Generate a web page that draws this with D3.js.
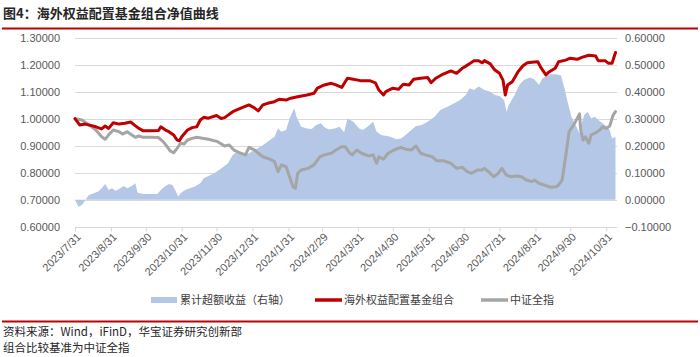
<!DOCTYPE html>
<html><head><meta charset="utf-8">
<script src="https://cdn.jsdelivr.net/npm/d3@7"></script>
<style>body{margin:0;background:#fff}svg{display:block}</style>
</head><body>
<script>
const title = "图4：海外权益配置基金组合净值曲线";
const sourceNote = "资料来源：Wind，iFinD，华宝证券研究创新部";
const benchNote = "组合比较基准为中证全指";
const legendLabels = ["累计超额收益（右轴）", "海外权益配置基金组合", "中证全指"];
const tickDates = ["2023-07-31","2023-08-31","2023-09-30","2023-10-31","2023-11-30","2023-12-31","2024-01-31","2024-02-29","2024-03-31","2024-04-30","2024-05-31","2024-06-30","2024-07-31","2024-08-31","2024-09-30","2024-10-31"];
const tickLabels = ["2023/7/31","2023/8/31","2023/9/30","2023/10/31","2023/11/30","2023/12/31","2024/1/31","2024/2/29","2024/3/31","2024/4/30","2024/5/31","2024/6/30","2024/7/31","2024/8/31","2024/9/30","2024/10/31"];
const leftTicks = [0.6,0.7,0.8,0.9,1.0,1.1,1.2,1.3];
const rightTicks = [-0.1,0,0.1,0.2,0.3,0.4,0.5,0.6];

// 海外权益配置基金组合 (left axis)
const portfolio = [["2023-07-31",1.000],["2023-08-04",0.977],["2023-08-09",0.980],["2023-08-18",0.970],["2023-08-23",0.962],["2023-08-26",0.973],["2023-08-29",0.964],["2023-09-02",0.985],["2023-09-07",0.980],["2023-09-12",0.983],["2023-09-17",0.988],["2023-09-20",0.977],["2023-09-24",0.964],["2023-09-28",0.955],["2023-10-05",0.955],["2023-10-11",0.956],["2023-10-13",0.970],["2023-10-17",0.958],["2023-10-20",0.952],["2023-10-24",0.940],["2023-10-27",0.921],["2023-10-29",0.918],["2023-10-31",0.933],["2023-11-05",0.958],["2023-11-09",0.967],["2023-11-13",0.970],["2023-11-16",0.995],["2023-11-19",1.005],["2023-11-23",1.002],["2023-11-30",1.012],["2023-12-04",1.001],["2023-12-07",1.004],["2023-12-14",1.026],["2023-12-21",1.039],["2023-12-28",1.051],["2024-01-02",1.039],["2024-01-05",1.029],["2024-01-09",1.051],["2024-01-13",1.057],["2024-01-19",1.063],["2024-01-23",1.072],["2024-01-29",1.069],["2024-02-02",1.076],["2024-02-08",1.081],["2024-02-16",1.088],["2024-02-22",1.094],["2024-02-25",1.113],["2024-03-02",1.125],["2024-03-08",1.131],["2024-03-12",1.125],["2024-03-17",1.116],["2024-03-20",1.137],["2024-03-22",1.150],["2024-03-27",1.146],["2024-04-02",1.141],["2024-04-10",1.141],["2024-04-15",1.133],["2024-04-18",1.106],["2024-04-22",1.088],["2024-04-24",1.100],["2024-04-30",1.113],["2024-05-05",1.109],["2024-05-09",1.128],["2024-05-14",1.125],["2024-05-18",1.146],["2024-05-24",1.150],["2024-05-30",1.153],["2024-06-02",1.133],["2024-06-06",1.150],["2024-06-11",1.162],["2024-06-19",1.177],["2024-06-24",1.168],["2024-06-29",1.187],["2024-07-05",1.203],["2024-07-09",1.215],["2024-07-13",1.215],["2024-07-16",1.207],["2024-07-18",1.215],["2024-07-23",1.203],["2024-07-27",1.180],["2024-07-31",1.168],["2024-08-03",1.143],["2024-08-05",1.088],["2024-08-07",1.125],["2024-08-11",1.137],["2024-08-16",1.174],["2024-08-20",1.195],["2024-08-24",1.207],["2024-08-30",1.210],["2024-09-02",1.211],["2024-09-05",1.187],["2024-09-09",1.162],["2024-09-12",1.174],["2024-09-17",1.187],["2024-09-20",1.211],["2024-09-26",1.217],["2024-09-30",1.224],["2024-10-06",1.220],["2024-10-10",1.227],["2024-10-16",1.235],["2024-10-22",1.232],["2024-10-24",1.215],["2024-10-30",1.215],["2024-11-02",1.205],["2024-11-05",1.205],["2024-11-08",1.245]];

// 中证全指 (left axis)
const benchmark = [["2023-07-31",1.000],["2023-08-06",0.995],["2023-08-12",0.977],["2023-08-18",0.958],["2023-08-23",0.933],["2023-08-26",0.924],["2023-08-29",0.940],["2023-09-02",0.958],["2023-09-07",0.952],["2023-09-10",0.943],["2023-09-14",0.952],["2023-09-18",0.940],["2023-09-21",0.931],["2023-09-24",0.936],["2023-09-28",0.931],["2023-10-05",0.931],["2023-10-11",0.930],["2023-10-15",0.915],["2023-10-18",0.899],["2023-10-21",0.881],["2023-10-24",0.874],["2023-10-27",0.890],["2023-10-30",0.909],["2023-11-02",0.906],["2023-11-05",0.921],["2023-11-09",0.927],["2023-11-13",0.931],["2023-11-19",0.927],["2023-11-23",0.924],["2023-12-01",0.915],["2023-12-07",0.899],["2023-12-11",0.903],["2023-12-15",0.884],["2023-12-21",0.872],["2023-12-25",0.866],["2023-12-28",0.894],["2024-01-02",0.884],["2024-01-05",0.872],["2024-01-09",0.859],["2024-01-15",0.850],["2024-01-19",0.841],["2024-01-22",0.804],["2024-01-25",0.829],["2024-01-29",0.822],["2024-02-01",0.785],["2024-02-04",0.748],["2024-02-06",0.742],["2024-02-08",0.798],["2024-02-11",0.810],["2024-02-17",0.816],["2024-02-22",0.829],["2024-02-27",0.859],["2024-03-02",0.866],["2024-03-08",0.872],["2024-03-12",0.884],["2024-03-17",0.896],["2024-03-20",0.896],["2024-03-22",0.884],["2024-03-24",0.872],["2024-03-26",0.866],["2024-03-30",0.884],["2024-04-03",0.872],["2024-04-09",0.862],["2024-04-13",0.866],["2024-04-16",0.835],["2024-04-18",0.859],["2024-04-22",0.850],["2024-04-26",0.872],["2024-05-01",0.884],["2024-05-07",0.894],["2024-05-11",0.887],["2024-05-16",0.884],["2024-05-20",0.899],["2024-05-24",0.872],["2024-05-28",0.866],["2024-06-03",0.859],["2024-06-07",0.844],["2024-06-13",0.844],["2024-06-19",0.835],["2024-06-24",0.816],["2024-06-29",0.820],["2024-07-03",0.804],["2024-07-07",0.798],["2024-07-12",0.810],["2024-07-16",0.810],["2024-07-18",0.816],["2024-07-23",0.798],["2024-07-26",0.785],["2024-07-30",0.798],["2024-08-02",0.816],["2024-08-06",0.791],["2024-08-10",0.785],["2024-08-15",0.788],["2024-08-19",0.785],["2024-08-23",0.773],["2024-08-28",0.767],["2024-08-30",0.773],["2024-09-03",0.761],["2024-09-09",0.752],["2024-09-13",0.746],["2024-09-18",0.748],["2024-09-20",0.755],["2024-09-23",0.773],["2024-09-26",0.859],["2024-09-29",0.952],["2024-10-03",0.977],["2024-10-08",1.018],["2024-10-09",0.958],["2024-10-11",0.921],["2024-10-13",0.933],["2024-10-16",0.909],["2024-10-18",0.940],["2024-10-22",0.948],["2024-10-26",0.960],["2024-10-28",0.970],["2024-10-31",0.964],["2024-11-03",0.973],["2024-11-06",1.014],["2024-11-08",1.026]];

// 累计超额收益 (right axis)
const excess = [["2023-07-31",0.000],["2023-08-03",-0.026],["2023-08-06",-0.020],["2023-08-09",-0.001],["2023-08-12",0.017],["2023-08-16",0.024],["2023-08-20",0.030],["2023-08-23",0.042],["2023-08-26",0.058],["2023-08-29",0.036],["2023-09-01",0.042],["2023-09-04",0.033],["2023-09-08",0.042],["2023-09-11",0.051],["2023-09-14",0.042],["2023-09-18",0.051],["2023-09-21",0.061],["2023-09-23",0.026],["2023-09-28",0.021],["2023-10-05",0.021],["2023-10-10",0.021],["2023-10-13",0.036],["2023-10-17",0.051],["2023-10-20",0.058],["2023-10-23",0.054],["2023-10-26",0.030],["2023-10-28",0.011],["2023-10-30",0.024],["2023-11-03",0.036],["2023-11-07",0.042],["2023-11-11",0.048],["2023-11-16",0.061],["2023-11-19",0.079],["2023-11-23",0.088],["2023-11-28",0.098],["2023-12-04",0.116],["2023-12-10",0.135],["2023-12-14",0.166],["2023-12-18",0.178],["2023-12-24",0.166],["2023-12-28",0.172],["2024-01-03",0.187],["2024-01-08",0.199],["2024-01-13",0.215],["2024-01-19",0.233],["2024-01-22",0.264],["2024-01-25",0.252],["2024-01-29",0.258],["2024-02-01",0.301],["2024-02-05",0.339],["2024-02-07",0.307],["2024-02-11",0.270],["2024-02-16",0.264],["2024-02-20",0.262],["2024-02-24",0.277],["2024-02-28",0.283],["2024-03-02",0.268],["2024-03-06",0.260],["2024-03-11",0.264],["2024-03-15",0.270],["2024-03-19",0.250],["2024-03-22",0.301],["2024-03-27",0.289],["2024-04-01",0.264],["2024-04-04",0.258],["2024-04-09",0.273],["2024-04-13",0.289],["2024-04-16",0.252],["2024-04-20",0.240],["2024-04-28",0.233],["2024-05-03",0.224],["2024-05-07",0.227],["2024-05-11",0.240],["2024-05-16",0.258],["2024-05-20",0.273],["2024-05-25",0.277],["2024-05-30",0.289],["2024-06-05",0.307],["2024-06-10",0.332],["2024-06-16",0.344],["2024-06-22",0.357],["2024-06-27",0.369],["2024-07-02",0.388],["2024-07-05",0.413],["2024-07-09",0.406],["2024-07-13",0.419],["2024-07-18",0.406],["2024-07-23",0.400],["2024-07-27",0.388],["2024-07-31",0.384],["2024-08-04",0.369],["2024-08-06",0.326],["2024-08-08",0.351],["2024-08-13",0.388],["2024-08-17",0.425],["2024-08-21",0.443],["2024-08-26",0.453],["2024-08-30",0.446],["2024-09-03",0.425],["2024-09-06",0.450],["2024-09-09",0.456],["2024-09-13",0.465],["2024-09-18",0.465],["2024-09-22",0.460],["2024-09-25",0.413],["2024-09-28",0.357],["2024-10-01",0.307],["2024-10-06",0.264],["2024-10-08",0.246],["2024-10-10",0.283],["2024-10-12",0.314],["2024-10-15",0.326],["2024-10-18",0.301],["2024-10-21",0.307],["2024-10-26",0.289],["2024-10-30",0.277],["2024-11-03",0.258],["2024-11-05",0.227],["2024-11-08",0.233]];

const parse = d3.timeParse("%Y-%m-%d");
const W = 700, H = 357;
const svg = d3.select("body").append("svg").attr("width", W).attr("height", H)
  .style("font-family", "'Liberation Sans', Arial, 'Noto Sans CJK SC', sans-serif");
svg.append("rect").attr("width", W).attr("height", H).attr("fill", "#fff");

const cjk = "'Noto Sans CJK SC', sans-serif";
const red = "#C00000", grey = "#A5A5A5", blue = "#B4C7E7";

// header
svg.append("text").attr("x", 3).attr("y", 18).text(title)
  .attr("font-family", cjk).attr("font-size", 13).attr("font-weight", 700).attr("fill", "#262626");
svg.append("line").attr("x1", 2).attr("x2", 698).attr("y1", 28.5).attr("y2", 28.5)
  .attr("stroke", red).attr("stroke-width", 2);

const x0 = parse("2023-07-31"), x1 = parse("2024-11-08");
const x = d3.scaleTime().domain([x0, x1]).range([75, 615.5]);
const yL = d3.scaleLinear().domain([0.6, 1.3]).range([226.7, 37.7]);
const yR = d3.scaleLinear().domain([-0.1, 0.6]).range([226.7, 37.7]);

// gridlines
svg.append("g").selectAll("line").data(leftTicks.slice(1)).join("line")
  .attr("x1", 75).attr("x2", 617).attr("y1", d => Math.round(yL(d)) + 0.5).attr("y2", d => Math.round(yL(d)) + 0.5)
  .attr("stroke", "#D9D9D9").attr("stroke-width", 1);

// area
const area = d3.area().x(d => x(parse(d[0]))).y0(yR(0)).y1(d => yR(d[1])).curve(d3.curveLinear);
svg.append("path").datum(excess).attr("d", area).attr("fill", blue);

// bottom axis
const xAxis = d3.axisBottom(x).tickValues(tickDates.map(parse))
  .tickFormat((d, i) => tickLabels[i]).tickSize(4).tickSizeOuter(0);
const gx = svg.append("g").attr("transform", `translate(0,${Math.round(yL(0.6)) + 0.5})`).call(xAxis);
gx.select(".domain").attr("stroke", "#D9D9D9").attr("d", "M75,0H617");
gx.selectAll(".tick line").attr("stroke", "#D9D9D9");
gx.selectAll(".tick text")
  .attr("font-size", 11).attr("fill", "#595959")
  .attr("text-anchor", "end").attr("dy", null).attr("y", 0)
  .attr("transform", "translate(4,8) rotate(-45)")
  .attr("dominant-baseline", "middle");

// left axis labels
svg.append("g").selectAll("text").data(leftTicks).join("text")
  .attr("x", 60).attr("y", d => yL(d)).attr("dy", "0.35em").attr("text-anchor", "end")
  .attr("font-size", 11).attr("fill", "#595959").text(d => d3.format(".5f")(d));
// right axis labels
svg.append("g").selectAll("text").data(rightTicks).join("text")
  .attr("x", 625).attr("y", d => yR(d)).attr("dy", "0.35em").attr("text-anchor", "start")
  .attr("font-size", 11).attr("fill", "#595959").text(d => d3.format(".5f")(d).replace("-", "−"));

// lines
const lineL = d3.line().x(d => x(parse(d[0]))).y(d => yL(d[1]));
svg.append("path").datum(benchmark).attr("d", lineL).attr("fill", "none")
  .attr("stroke", grey).attr("stroke-width", 3).attr("stroke-linejoin", "round").attr("stroke-linecap", "round");
svg.append("path").datum(portfolio).attr("d", lineL).attr("fill", "none")
  .attr("stroke", red).attr("stroke-width", 3).attr("stroke-linejoin", "round").attr("stroke-linecap", "round");

// legend
const ly = 300;
const lg = svg.append("g").attr("font-family", cjk).attr("font-size", 11).attr("fill", "#404040");
const items = [
  {x: 151, kind: "rect", color: blue, label: legendLabels[0]},
  {x: 315, kind: "line", color: red, label: legendLabels[1]},
  {x: 481, kind: "line", color: grey, label: legendLabels[2]}
];
items.forEach(it => {
  if (it.kind === "rect") lg.append("rect").attr("x", it.x).attr("y", ly - 3).attr("width", 26).attr("height", 6).attr("fill", it.color);
  else lg.append("line").attr("x1", it.x).attr("x2", it.x + 27).attr("y1", ly).attr("y2", ly).attr("stroke", it.color).attr("stroke-width", 3.5);
  lg.append("text").attr("x", it.x + 29).attr("y", ly).attr("dy", "0.36em").text(it.label);
});

// footer
svg.append("line").attr("x1", 2).attr("x2", 698).attr("y1", 321.5).attr("y2", 321.5)
  .attr("stroke", red).attr("stroke-width", 2);
svg.append("text").attr("x", 3).attr("y", 336).text(sourceNote)
  .attr("font-family", cjk).attr("font-size", 11.5).attr("fill", "#262626");
svg.append("text").attr("x", 3).attr("y", 352).text(benchNote)
  .attr("font-family", cjk).attr("font-size", 11.5).attr("fill", "#262626");
</script>
</body></html>
